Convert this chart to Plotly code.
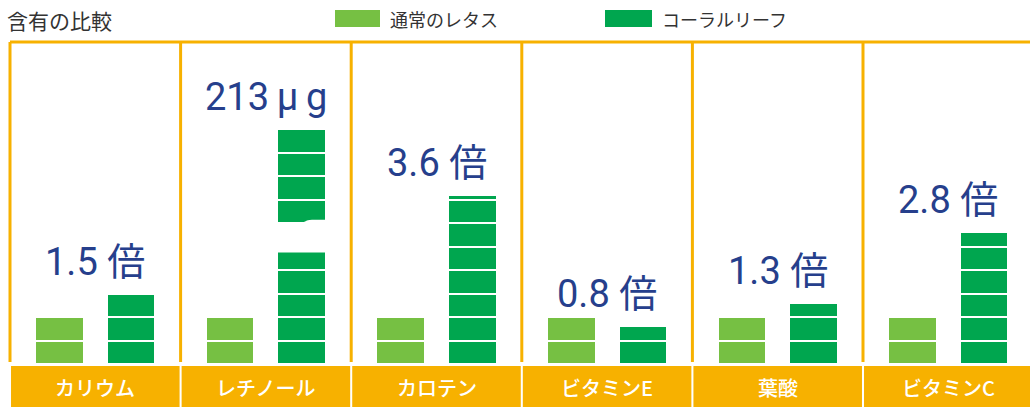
import math
import plotly.graph_objects as go

# ---- data -------------------------------------------------------------
categories = ["カリウム", "レチノール", "カロテン", "ビタミンE", "葉酸", "ビタミンC"]
normal_ratio = [1.0, 1.0, 1.0, 1.0, 1.0, 1.0]          # 通常のレタス = 1
coral_ratio = [1.5, None, 3.6, 0.8, 1.3, 2.8]          # コーラルリーフ (倍)
value_labels = ["1.5 倍", "213\u2009μ\u2009g", "3.6 倍", "0.8 倍", "1.3 倍", "2.8 倍"]
retinol_ug = 213                                        # shown as an amount, bar is broken
broken_bar_height = 5.0
broken_band = (2.4, 3.0)
series_names = ["通常のレタス", "コーラルリーフ"]
chart_title = "含有の比較"

# ---- style ------------------------------------------------------------
LIGHT = "#76C043"
DARK = "#00A64F"
ORANGE = "#F7B100"
NAVY = "#263F8C"
TEXT = "#333333"
STEP = 0.5            # height of one block in a bar
BAR_W = 0.285
OFFSET = 0.21

W, H = 1030, 407
ML, MR, MT, MB = 10, 0, 42, 43
PLOT_W, PLOT_H = W - ML - MR, H - MT - MB
PANEL_PX = 170.6
XMIN = -0.5
XMAX = XMIN + PLOT_W / PANEL_PX
YMAX = PLOT_H / 47.0


def xp(x):
    """axis x -> paper x"""
    return (x - XMIN) / (XMAX - XMIN)


def pxx(px):
    return (px - ML) / PLOT_W


def pxy(py):
    return (H - MB - py) / PLOT_H


def blocks(lo, hi):
    """split [lo, hi] into pieces on the STEP grid"""
    out = []
    k = math.floor(lo / STEP + 1e-9)
    while k * STEP < hi - 1e-9:
        b = max(lo, k * STEP)
        t = min(hi, (k + 1) * STEP)
        out.append((b, t - b))
        k += 1
    return out


def series_trace(values, shift, color, name):
    xs, bases, hs = [], [], []
    for i, v in enumerate(values):
        if v is None:
            parts = blocks(0, broken_band[0]) + blocks(broken_band[1], broken_bar_height)
        else:
            parts = blocks(0, v)
        for b, h in parts:
            xs.append(i + shift)
            bases.append(b)
            hs.append(h)
    return go.Bar(
        x=xs, y=hs, base=bases, width=BAR_W, name=name,
        marker=dict(color=color, line=dict(color="white", width=2)),
        showlegend=False, hoverinfo="skip",
    )


fig = go.Figure()
fig.add_trace(series_trace(normal_ratio, -OFFSET, LIGHT, series_names[0]))
fig.add_trace(series_trace(coral_ratio, OFFSET, DARK, series_names[1]))

shapes = []
annotations = []
n = len(categories)

# panel frame: top rule and separators
shapes.append(dict(type="line", xref="paper", yref="paper", x0=xp(-0.5), x1=xp(n - 0.5),
                   y0=1, y1=1, line=dict(color=ORANGE, width=3)))
for k in range(n + 1):
    shapes.append(dict(type="line", xref="paper", yref="paper", x0=xp(k - 0.5), x1=xp(k - 0.5),
                       y0=pxy(362), y1=1, line=dict(color=ORANGE, width=3)))

# slanted cut edges on the broken bar
bi = coral_ratio.index(None) + OFFSET
x0b, x1b = bi - BAR_W / 2 - 0.01, bi + BAR_W / 2 + 0.01
xm = bi + 0.02
for edge, amp in ((broken_band[1], 0.07), (broken_band[0], 0.05)):
    shapes.append(dict(type="path", xref="x", yref="y", layer="above", line=dict(width=0),
                       fillcolor="white",
                       path=(f"M {x0b},{edge - 0.03} L {x0b},{edge} L {xm - 0.04},{edge} "
                             f"C {xm},{edge} {xm},{edge + amp} {xm + 0.04},{edge + amp} "
                             f"L {x1b},{edge + amp} L {x1b},{edge - 0.03} Z")))

# category tabs
for i, cat in enumerate(categories):
    shapes.append(dict(type="rect", xref="paper", yref="paper",
                       x0=xp(i - 0.5) + 0.001, x1=xp(i + 0.5) - 0.001,
                       y0=pxy(366), y1=pxy(420), fillcolor=ORANGE, line=dict(width=0),
                       layer="above"))
    annotations.append(dict(xref="x", yref="paper", x=i, y=pxy(387), text=cat,
                            showarrow=False, yanchor="middle",
                            font=dict(family="Noto Sans CJK JP", size=20, color="white",
                                      weight=500)))

# value labels above the coral bars
for i, lab in enumerate(value_labels):
    top = coral_ratio[i] if coral_ratio[i] is not None else broken_bar_height
    annotations.append(dict(xref="x", yref="y", x=i, y=top, text=lab, showarrow=False,
                            yanchor="bottom", yshift=8,
                            font=dict(family="Roboto, Noto Sans CJK JP", size=38, color=NAVY)))

# legend
for (x0, x1, tx), name, col in zip([(335, 380, 388), (605, 652, 660)], series_names, [LIGHT, DARK]):
    shapes.append(dict(type="rect", xref="paper", yref="paper", x0=pxx(x0), x1=pxx(x1),
                       y0=pxy(27), y1=pxy(10), fillcolor=col, line=dict(width=0)))
    annotations.append(dict(xref="paper", yref="paper", x=pxx(tx), y=pxy(19), text=name,
                            showarrow=False, xanchor="left", yanchor="middle",
                            font=dict(family="Noto Sans CJK JP", size=18, color=TEXT)))

# title
annotations.append(dict(xref="paper", yref="paper", x=pxx(5), y=pxy(20), text=chart_title,
                        showarrow=False, xanchor="left", yanchor="middle",
                        font=dict(family="Noto Sans CJK JP", size=21, color=TEXT)))

fig.update_layout(
    width=W, height=H,
    margin=dict(l=ML, r=MR, t=MT, b=MB),
    paper_bgcolor="white", plot_bgcolor="rgba(0,0,0,0)",
    barmode="overlay", bargap=0,
    xaxis=dict(range=[XMIN, XMAX], visible=False, fixedrange=True),
    yaxis=dict(range=[0, YMAX], visible=False, fixedrange=True),
    shapes=shapes, annotations=annotations,
    showlegend=False,
)

fig.write_html("out.html")
